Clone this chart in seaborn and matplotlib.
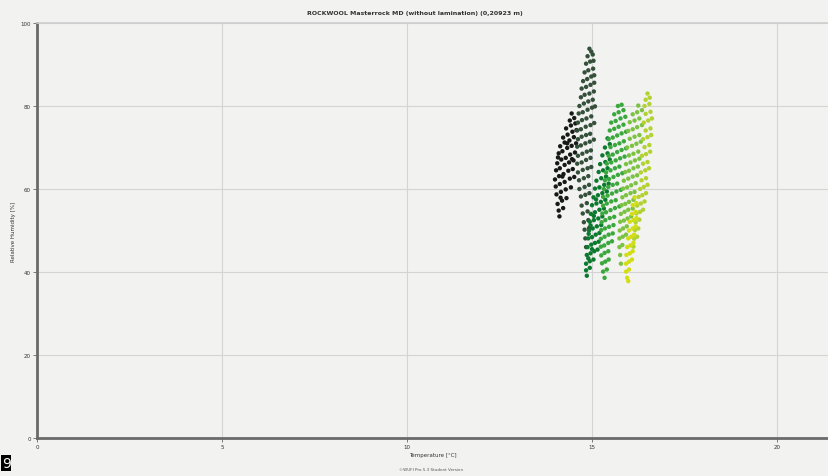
import matplotlib
matplotlib.use('Agg')
import matplotlib.pyplot as plt
import seaborn as sns
import pandas as pd

# (temperature degC, relative humidity %), one list per colour band
black_pts = [
    (14.45, 78.2), (14.4, 76.5), (14.52, 77.1), (14.3, 74.6), (14.43, 75.3), (14.55, 75.8),
    (14.22, 72.4), (14.34, 73.1), (14.47, 73.8), (14.58, 74.2), (14.14, 70.3), (14.26, 71.2),
    (14.39, 71.7), (14.51, 72.5), (14.1, 68.6), (14.2, 69.1), (14.33, 69.9), (14.45, 70.4),
    (14.57, 71.0), (14.06, 66.2), (14.17, 67.1), (14.29, 67.5), (14.41, 68.3), (14.54, 68.8),
    (14.03, 64.5), (14.13, 65.0), (14.26, 65.8), (14.38, 66.4), (14.5, 66.9), (14.0, 62.3),
    (14.11, 63.1), (14.23, 63.6), (14.36, 64.4), (14.48, 64.8), (14.02, 60.6), (14.13, 61.2),
    (14.26, 61.7), (14.4, 62.5), (14.52, 62.9), (14.04, 58.7), (14.16, 59.3), (14.29, 59.9),
    (14.43, 60.4), (14.07, 56.4), (14.19, 57.2), (14.31, 57.8), (14.1, 54.8), (14.22, 55.4),
    (14.12, 53.4), (14.08, 67.6), (14.2, 63.0), (14.33, 71.0), (14.15, 57.9), (14.46, 67.2),
]
darkgrey_pts = [
    (14.93, 93.8), (14.98, 93.1), (14.88, 92.0), (15.02, 92.4), (14.84, 90.2), (14.95, 90.7),
    (15.04, 90.9), (14.8, 88.1), (14.9, 88.6), (15.03, 89.0), (14.76, 86.0), (14.87, 86.5),
    (14.98, 87.1), (15.06, 87.4), (14.72, 84.2), (14.84, 84.6), (14.96, 85.1), (15.06, 85.6),
    (14.7, 82.1), (14.8, 82.7), (14.93, 83.0), (15.05, 83.5), (14.66, 80.0), (14.78, 80.6),
    (14.9, 81.1), (15.02, 81.5), (14.64, 78.2), (14.75, 78.5), (14.88, 79.1), (15.0, 79.6),
    (15.08, 79.9), (14.62, 76.0), (14.73, 76.6), (14.85, 77.0), (14.98, 77.5), (14.6, 74.1),
    (14.7, 74.4), (14.83, 75.0), (14.96, 75.4), (15.06, 75.9), (14.62, 72.0), (14.72, 72.6),
    (14.84, 73.0), (14.95, 73.3), (14.6, 70.2), (14.7, 70.5), (14.82, 71.0), (14.94, 71.4),
    (15.05, 71.9), (14.62, 68.0), (14.74, 68.5), (14.86, 69.0), (14.97, 69.3), (14.6, 66.1),
    (14.72, 66.4), (14.84, 67.0), (14.96, 67.5), (14.62, 64.0), (14.75, 64.6), (14.88, 65.0),
    (14.98, 65.3), (14.65, 62.1), (14.78, 62.6), (14.9, 63.1), (14.66, 60.0), (14.8, 60.5),
    (14.92, 61.0), (14.7, 58.2), (14.82, 58.6), (14.93, 59.0), (14.72, 56.0), (14.86, 56.6),
    (14.75, 54.1), (14.88, 54.6), (14.78, 52.0), (14.9, 52.5), (14.8, 50.2), (14.92, 50.6),
    (14.82, 48.1), (14.84, 46.0),
]
darkgreen_pts = [
    (15.42, 72.2), (15.35, 70.0), (15.48, 70.8), (15.28, 68.1), (15.42, 68.6), (15.22, 66.0),
    (15.36, 66.5), (15.48, 67.1), (15.18, 64.1), (15.3, 64.5), (15.42, 65.0), (15.12, 62.0),
    (15.25, 62.6), (15.38, 63.0), (15.08, 60.1), (15.2, 60.4), (15.33, 61.0), (15.45, 61.3),
    (15.04, 58.0), (15.16, 58.5), (15.28, 59.0), (15.4, 59.4), (15.0, 56.1), (15.12, 56.5),
    (15.24, 56.9), (15.36, 57.4), (14.97, 54.0), (15.08, 54.4), (15.2, 55.0), (15.32, 55.3),
    (14.94, 52.1), (15.05, 52.5), (15.17, 52.9), (15.28, 53.4), (14.92, 50.0), (15.02, 50.5),
    (15.13, 51.0), (15.25, 51.3), (14.9, 48.1), (15.0, 48.4), (15.1, 49.0), (15.2, 49.4),
    (14.88, 46.0), (14.98, 46.6), (15.08, 47.0), (15.18, 47.3), (14.86, 44.1), (14.96, 44.5),
    (15.06, 45.0), (15.15, 45.4), (14.84, 42.0), (14.94, 42.6), (15.04, 43.0), (14.84, 40.4),
    (14.94, 41.0), (14.86, 39.1), (14.91, 49.2), (15.0, 45.5), (14.9, 43.3), (15.05, 53.5),
    (14.96, 51.2), (15.11, 57.5),
]
green_pts = [
    (15.7, 80.0), (15.8, 80.3), (15.6, 78.0), (15.72, 78.5), (15.85, 79.0), (15.52, 76.0),
    (15.64, 76.4), (15.77, 77.0), (15.9, 77.4), (15.48, 74.1), (15.6, 74.5), (15.72, 75.0),
    (15.85, 75.5), (15.45, 72.0), (15.56, 72.4), (15.68, 72.9), (15.8, 73.4), (15.92, 73.8),
    (15.5, 70.1), (15.62, 70.6), (15.74, 71.0), (15.86, 71.5), (15.45, 68.0), (15.56, 68.3),
    (15.68, 68.9), (15.8, 69.4), (15.92, 69.8), (15.4, 66.1), (15.52, 66.4), (15.64, 66.9),
    (15.76, 67.4), (15.88, 67.8), (15.38, 64.0), (15.5, 64.5), (15.62, 65.0), (15.74, 65.4),
    (15.35, 62.1), (15.46, 62.4), (15.58, 62.9), (15.7, 63.4), (15.82, 63.8), (15.32, 60.0),
    (15.44, 60.5), (15.56, 61.0), (15.68, 61.3), (15.3, 58.1), (15.42, 58.4), (15.54, 58.9),
    (15.66, 59.4), (15.78, 59.8), (15.3, 56.0), (15.4, 56.5), (15.52, 57.0), (15.64, 57.3),
    (15.28, 54.1), (15.38, 54.4), (15.5, 54.9), (15.62, 55.4), (15.74, 55.8), (15.26, 52.0),
    (15.36, 52.5), (15.48, 53.0), (15.6, 53.3), (15.25, 50.1), (15.35, 50.5), (15.46, 50.9),
    (15.58, 51.3), (15.24, 48.0), (15.34, 48.5), (15.45, 49.0), (15.56, 49.3), (15.24, 46.1),
    (15.33, 46.4), (15.44, 47.0), (15.54, 47.4), (15.25, 44.0), (15.34, 44.6), (15.44, 45.0),
    (15.27, 42.1), (15.36, 42.5), (15.45, 43.0), (15.3, 40.1), (15.4, 40.6), (15.34, 38.6),
]
lightgreen_pts = [
    (16.25, 80.1), (16.1, 78.0), (16.22, 78.5), (16.35, 79.0), (16.02, 76.1), (16.15, 76.5),
    (16.28, 77.0), (15.98, 74.0), (16.1, 74.4), (16.22, 74.9), (16.35, 75.4), (16.02, 72.1),
    (16.15, 72.6), (16.28, 73.0), (15.95, 70.0), (16.08, 70.4), (16.2, 70.9), (16.32, 71.4),
    (16.0, 68.1), (16.12, 68.5), (16.25, 69.0), (15.92, 66.0), (16.04, 66.4), (16.16, 66.9),
    (16.28, 67.3), (15.9, 64.1), (16.0, 64.4), (16.12, 65.0), (16.24, 65.4), (15.86, 62.0),
    (15.98, 62.5), (16.1, 63.0), (16.22, 63.3), (15.84, 60.1), (15.95, 60.4), (16.06, 60.9),
    (16.18, 61.4), (15.82, 58.0), (15.92, 58.5), (16.04, 59.0), (16.15, 59.3), (15.8, 56.1),
    (15.9, 56.4), (16.0, 56.9), (16.12, 57.4), (15.78, 54.0), (15.88, 54.5), (15.98, 55.0),
    (16.1, 55.3), (15.76, 52.1), (15.86, 52.4), (15.96, 52.9), (16.06, 53.4), (15.75, 50.0),
    (15.84, 50.5), (15.94, 51.0), (15.74, 48.1), (15.83, 48.5), (15.92, 49.0), (15.74, 46.0),
    (15.82, 46.5), (15.76, 44.1), (15.78, 42.0),
]
yellowgreen_pts = [
    (16.5, 83.0), (16.45, 81.5), (16.56, 82.0), (16.42, 80.0), (16.55, 80.5), (16.45, 78.1),
    (16.58, 78.6), (16.4, 76.0), (16.52, 76.5), (16.62, 77.0), (16.45, 74.1), (16.58, 74.6),
    (16.38, 72.0), (16.5, 72.5), (16.6, 73.0), (16.42, 70.1), (16.55, 70.6), (16.35, 68.0),
    (16.46, 68.4), (16.57, 69.0), (16.38, 66.1), (16.5, 66.5), (16.32, 64.0), (16.44, 64.5),
    (16.54, 65.0), (16.34, 62.1), (16.46, 62.6), (16.3, 60.0), (16.4, 60.5), (16.5, 61.0),
    (16.26, 58.1), (16.36, 58.5), (16.46, 59.0), (16.22, 56.0), (16.32, 56.5), (16.42, 57.0),
    (16.2, 54.1), (16.3, 54.5), (16.38, 55.0), (16.18, 52.0), (16.28, 52.6), (16.16, 50.1),
    (16.25, 50.5), (16.14, 48.0), (16.22, 48.5), (16.12, 46.1),
]
yellow_pts = [
    (16.15, 58.0), (16.1, 56.1), (16.2, 56.6), (16.08, 54.0), (16.18, 54.5), (16.02, 52.1),
    (16.12, 52.5), (16.2, 53.0), (16.0, 50.0), (16.1, 50.5), (16.18, 51.0), (15.98, 48.1),
    (16.06, 48.5), (16.14, 49.0), (15.95, 46.0), (16.04, 46.4), (16.12, 47.0), (15.93, 44.1),
    (16.02, 44.5), (16.1, 45.0), (15.92, 42.0), (16.0, 42.5), (16.08, 43.0), (15.92, 40.1),
    (16.0, 40.6), (15.95, 38.6), (15.98, 37.8),
]

stages = ['black', 'darkgrey', 'darkgreen', 'green', 'lightgreen', 'yellowgreen', 'yellow']
stage_pts = [black_pts, darkgrey_pts, darkgreen_pts, green_pts,
             lightgreen_pts, yellowgreen_pts, yellow_pts]
palette = {'black': '#151a15', 'darkgrey': '#34503a', 'darkgreen': '#0c7a2e',
           'green': '#3aa83c', 'lightgreen': '#7cc242', 'yellowgreen': '#b2d232',
           'yellow': '#d2de12'}

x_ticks = [0, 5, 10, 15, 20]
y_ticks = [0, 20, 40, 60, 80, 100]

recs = []
for st, pts in zip(stages, stage_pts):
    for t, rh in pts:
        recs.append({'stage': st, 'temp': t, 'rh': rh})
df = pd.DataFrame(recs)

bg = '#f2f2f0'
sns.set_theme(style='white')
plt.rcParams['font.family'] = ['DejaVu Sans']

fig = plt.figure(figsize=(8.29, 4.77), dpi=100, facecolor=bg)
ax = fig.add_axes([37 / 829, 38 / 477, 792 / 829, 415 / 477])
ax.set_facecolor(bg)

sns.scatterplot(data=df, x='temp', y='rh', hue='stage', palette=palette, hue_order=stages,
                s=10, linewidth=0, legend=False, ax=ax, zorder=3)

ax.set_xlim(0, 792 / 37)
ax.set_ylim(0, 100)
ax.set_xticks(x_ticks)
ax.set_yticks(y_ticks)
ax.set_xticklabels([str(v) for v in x_ticks])
ax.set_yticklabels([str(v) for v in y_ticks])
ax.grid(True, color='#d4d4d4', linewidth=0.8)
ax.tick_params(axis='both', labelsize=4, length=3, width=0.6, color='#666666', pad=1.5,
               labelcolor='#333333', bottom=True, left=True)

for side in ['left', 'bottom']:
    ax.spines[side].set_color('#6a6a6a')
    ax.spines[side].set_linewidth(2.0)
ax.spines['top'].set_color('#cfcfcf')
ax.spines['top'].set_linewidth(1.2)
ax.spines['right'].set_visible(False)

ax.set_xlabel('Temperature [°C]', fontsize=4, color='#333333', labelpad=2)
ax.set_ylabel('Relative Humidity [%]', fontsize=4, color='#333333', labelpad=3)
fig.text(0.5, 1 - 13 / 477, 'ROCKWOOL Masterrock MD (without lamination) (0,20923 m)',
         ha='center', va='center', fontsize=4.5, fontweight='bold', color='#333333')
fig.text(0.52, 1 - 470 / 477, '©WUFI Pro 5.3 Student Version', ha='center', va='center',
         fontsize=3, color='#555555')
fig.text(0.002, 0.012, '9', ha='left', va='bottom', fontsize=10, color='white',
         bbox=dict(facecolor='black', edgecolor='none', pad=0.6))

plt.savefig('out.png', dpi=100, facecolor=bg)
